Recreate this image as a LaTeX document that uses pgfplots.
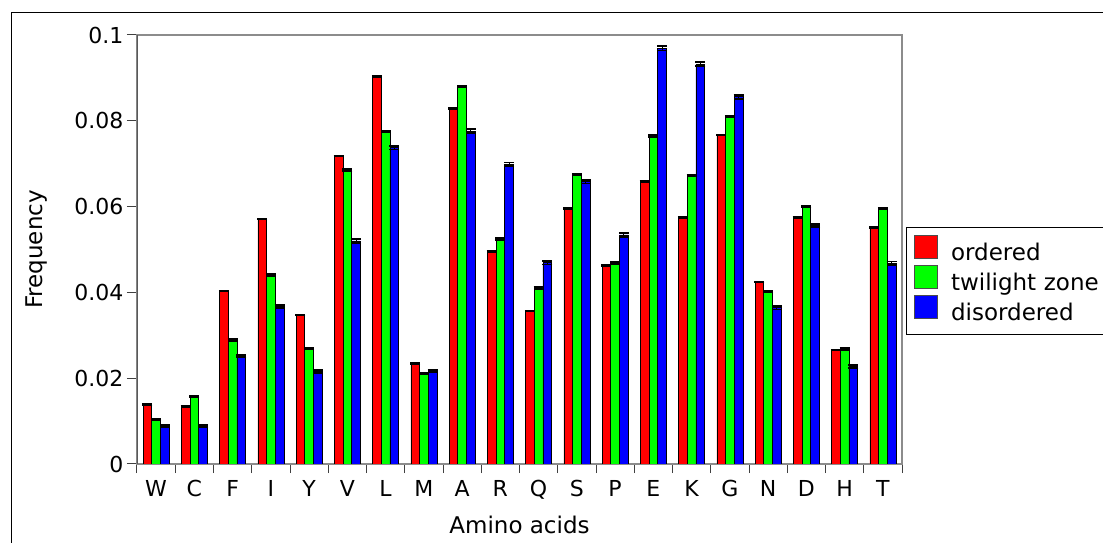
\documentclass[border=0pt]{standalone}
\usepackage{pgfplots}
\usepackage{pgfplotstable}
\pgfplotsset{compat=1.18}
\usepackage{fontspec}
\setmainfont{DejaVu Sans}
\newcommand{\tickfont}{\fontsize{22pt}{26pt}\selectfont}
\newcommand{\lblfont}{\fontsize{23pt}{27pt}\selectfont}

\pgfplotstableread{
x r g b re ge be
0  0.0139 0.0104 0.0089 0.0001 0.0002 0.0002
1  0.0134 0.0157 0.0089 0.0001 0.0002 0.0002
2  0.0403 0.0289 0.0252 0.0001 0.0002 0.0003
3  0.0571 0.0441 0.0367 0.0001 0.0002 0.0003
4  0.0347 0.0269 0.0216 0.0001 0.0002 0.0003
5  0.0718 0.0685 0.0520 0.0001 0.0002 0.0004
6  0.0904 0.0775 0.0737 0.0001 0.0002 0.0004
7  0.0235 0.0211 0.0217 0.0001 0.0002 0.0003
8  0.0828 0.0880 0.0776 0.0001 0.0002 0.0004
9  0.0495 0.0524 0.0699 0.0001 0.0002 0.0004
10 0.0357 0.0410 0.0469 0.0001 0.0002 0.0004
11 0.0596 0.0675 0.0658 0.0001 0.0002 0.0004
12 0.0462 0.0468 0.0534 0.0001 0.0002 0.0004
13 0.0658 0.0765 0.0969 0.0001 0.0002 0.0005
14 0.0574 0.0672 0.0932 0.0001 0.0002 0.0005
15 0.0767 0.0810 0.0856 0.0001 0.0002 0.0005
16 0.0424 0.0402 0.0364 0.0001 0.0002 0.0004
17 0.0574 0.0600 0.0556 0.0001 0.0002 0.0004
18 0.0266 0.0268 0.0227 0.0001 0.0002 0.0003
19 0.0551 0.0595 0.0468 0.0001 0.0002 0.0004
}\datatable

\begin{document}
\begin{tikzpicture}
\begin{axis}[
  at={(137pt,79pt)}, anchor=south west,
  scale only axis, width=765pt, height=429pt,
  xmin=-0.5, xmax=19.5, ymin=0, ymax=0.1,
  ybar=0pt, bar width=0.227,
  xtick={0,...,19},
  xticklabels={W,C,F,I,Y,V,L,M,A,R,Q,S,P,E,K,G,N,D,H,T},
  minor xtick={-0.5,0.5,...,19.5},
  ytick={0,0.02,0.04,0.06,0.08,0.1},
  yticklabels={0,0.02,0.04,0.06,0.08,0.1},
  tick align=outside, tick pos=left,
  major tick length=10pt, minor tick length=9pt,
  x tick style={draw=none},
  minor x tick style={draw=black!75, line width=1pt},
  y tick style={draw=black!75, line width=1pt},
  axis line style={draw=black!45, line width=1.6pt},
  tick label style={font=\tickfont},
  xticklabel style={yshift=-3pt},
  /pgf/number format/assume math mode=true,
  xlabel={Amino acids}, ylabel={Frequency},
  label style={font=\lblfont},
  xlabel style={at={(axis description cs:0.5,-0.163)}, anchor=base},
  ylabel style={at={(axis description cs:-0.132,0.5)}, anchor=center},
  legend style={at={(1.005,0.552)}, anchor=north west, draw=black, line width=1pt,
    font=\lblfont, inner xsep=8pt, inner ysep=7pt, row sep=-2pt,
    nodes={inner sep=2pt, text height=16pt, text depth=5pt, text width=200pt, align=left},
    /tikz/every odd column/.append style={column sep=11pt}},
  legend cell align=left,
  legend image code/.code={\draw[#1, draw=black!70, line width=0.7pt] (0pt,-3.5pt) rectangle (23pt,19.5pt);},
  error bars/y dir=both, error bars/y explicit,
  error bars/error bar style={black, line width=1pt},
  error bars/error mark options={black, line width=1.8pt, mark size=5pt, rotate=90},
  every axis plot/.append style={draw=black, line width=0.7pt},
]
\addplot[fill=red] table[x=x, y=r, y error=re] {\datatable};
\addplot[fill=green] table[x=x, y=g, y error=ge] {\datatable};
\addplot[fill=blue] table[x=x, y=b, y error=be] {\datatable};
\legend{ordered, twilight zone, disordered}
\draw[draw=black!65, line width=2pt] (rel axis cs:0,0) -- (rel axis cs:0,1);
\end{axis}
\draw[black, line width=1pt] (11.5pt,-20pt) -- (11.5pt,530.5pt) -- (1130pt,530.5pt);
\pgfresetboundingbox
\useasboundingbox (0pt,0pt) rectangle (1103pt,543pt);
\end{tikzpicture}
\end{document}
